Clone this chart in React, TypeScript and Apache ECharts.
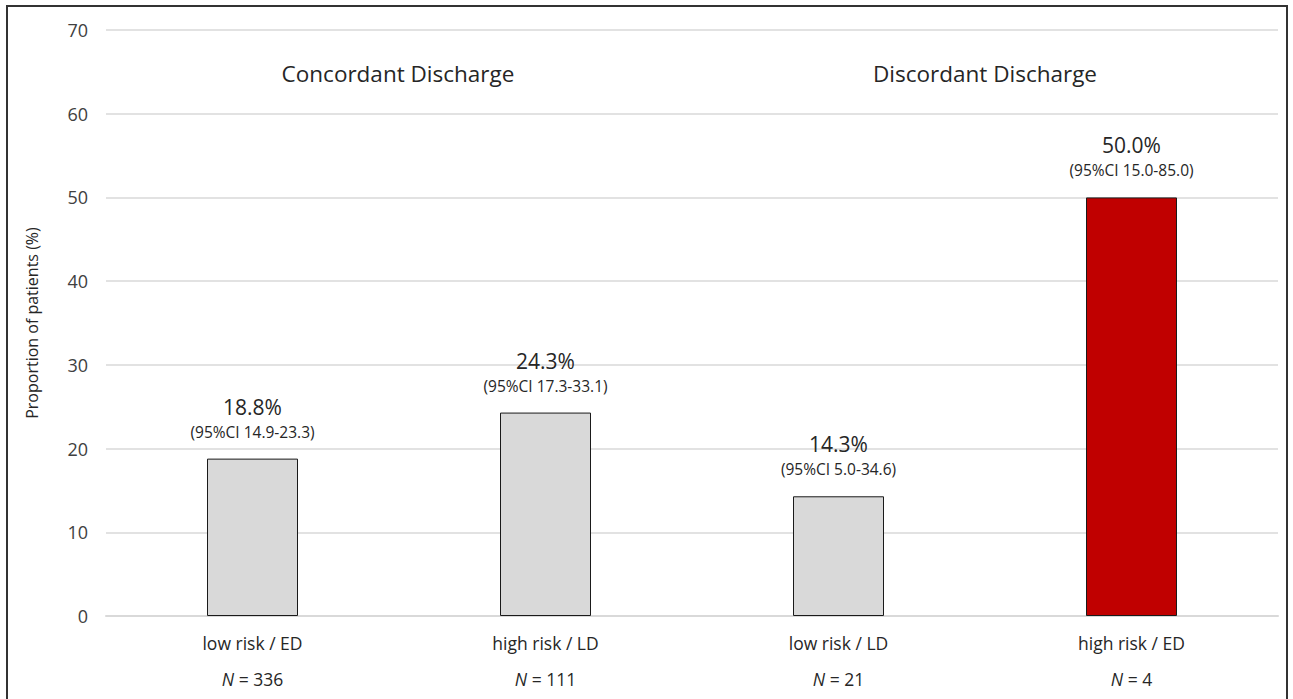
import React, { useEffect, useRef } from "react";
import * as echarts from "echarts";

const categories = ["low risk / ED", "high risk / LD", "low risk / LD", "high risk / ED"];
const sampleSizes = ["336", "111", "21", "4"];
const proportions = [18.8, 24.3, 14.3, 50.0];
const ciLabels = ["(95%CI 14.9-23.3)", "(95%CI 17.3-33.1)", "(95%CI 5.0-34.6)", "(95%CI 15.0-85.0)"];
const barColors = ["#d9d9d9", "#d9d9d9", "#d9d9d9", "#c00000"];
const groupTitles = ["Concordant Discharge", "Discordant Discharge"];
const yTicks = { min: 0, max: 70, interval: 10 };

const FONT = "'Open Sans', 'Noto Sans', sans-serif";

export default function App() {
  const ref = useRef<HTMLDivElement>(null);
  useEffect(() => {
    if (!ref.current) return;
    const chart = echarts.init(ref.current, null, { renderer: "svg" });
    const option: any = {
      animation: false,
      backgroundColor: "#ffffff",
      textStyle: { fontFamily: FONT },
      grid: { left: 106, right: 15, top: 30, bottom: 83 },
      xAxis: {
        type: "category",
        data: categories,
        axisLine: { show: true, lineStyle: { color: "#d9d9d9", width: 2 } },
        axisTick: { show: false },
        axisLabel: {
          margin: 9,
          formatter: (v: string, i: number) => `{c|${v}}\n{n|N}{m| = ${sampleSizes[i]}}`,
          rich: {
            c: { fontSize: 17.5, color: "#262626", fontFamily: FONT, lineHeight: 36 },
            n: { fontSize: 17.5, color: "#262626", fontFamily: FONT, fontStyle: "italic", lineHeight: 36 },
            m: { fontSize: 17.5, color: "#262626", fontFamily: FONT, lineHeight: 36 },
          },
        },
      },
      yAxis: {
        type: "value",
        min: yTicks.min,
        max: yTicks.max,
        interval: yTicks.interval,
        name: "Proportion of patients (%)",
        nameLocation: "middle",
        nameGap: 66,
        nameTextStyle: { fontSize: 16, color: "#262626", fontFamily: FONT },
        axisLine: { show: false },
        axisTick: { show: false },
        axisLabel: { fontSize: 18, color: "#404040", margin: 18, fontFamily: FONT },
        splitLine: { lineStyle: { color: "#d9d9d9", width: 1.5 } },
      },
      series: [
        {
          type: "bar",
          barWidth: 91,
          data: proportions.map((v, i) => ({
            value: v,
            itemStyle: { color: barColors[i], borderColor: "#1a1a1a", borderWidth: 1 },
          })),
          label: {
            show: true,
            position: "top",
            distance: 15,
            formatter: (p: any) => `{v|${p.value.toFixed(1)}%}\n{ci|${ciLabels[p.dataIndex]}}`,
            rich: {
              v: { fontSize: 21, color: "#262626", fontFamily: FONT, lineHeight: 26 },
              ci: { fontSize: 15.5, color: "#262626", fontFamily: FONT, lineHeight: 24 },
            },
          },
        },
      ],
      graphic: [
        {
          type: "rect",
          shape: { x: 7, y: 6, width: 1280, height: 720 },
          style: { fill: "none", stroke: "#333333", lineWidth: 2 },
          silent: true,
        },
        {
          type: "text",
          x: 398,
          y: 73,
          style: {
            text: groupTitles[0],
            fontSize: 22.5,
            fontFamily: FONT,
            fill: "#262626",
            textAlign: "center",
            textVerticalAlign: "middle",
          },
        },
        {
          type: "text",
          x: 985,
          y: 73,
          style: {
            text: groupTitles[1],
            fontSize: 22.5,
            fontFamily: FONT,
            fill: "#262626",
            textAlign: "center",
            textVerticalAlign: "middle",
          },
        },
      ],
    };
    chart.setOption(option);
    return () => chart.dispose();
  }, []);
  return (
    <div
      ref={ref}
      style={{ position: "fixed", left: 0, top: 0, width: 1293, height: 699 }}
    />
  );
}
